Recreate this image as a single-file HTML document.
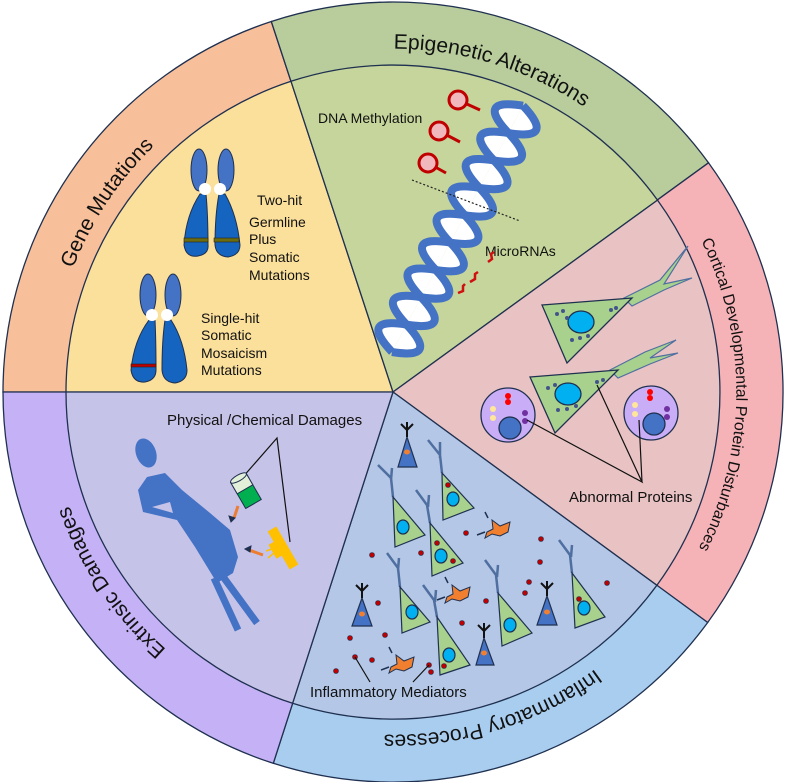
<!DOCTYPE html>
<html><head><meta charset="utf-8"><style>
html,body{margin:0;padding:0;background:#fff;}
svg{display:block;font-family:"Liberation Sans",sans-serif;}
</style></head><body>
<svg width="786" height="782" viewBox="0 0 786 782" xmlns="http://www.w3.org/2000/svg">
<defs>
<path id="pGene" d="M117.2,596.1 A343,343 0 0 1 473,58.6"/>
<path id="pEpi" d="M118.9,185.5 A343,343 0 0 1 735.5,374"/>
<path id="pCort" d="M513.1,70.6 A343,343 0 0 1 507.6,715.4"/>
<path id="pInf" d="M735.6,408.2 A343,343 0 0 1 120.3,599.8"/>
<path id="pExt" d="M476,724.7 A343,343 0 0 1 115.5,190.3"/>
</defs>
<g stroke="#1f3050" stroke-width="1.3">
<path d="M393,392 L3,392 A390,390 0 0 1 271.3,21.5 Z" fill="#f8c09a"/>
<path d="M393,392 L271.3,21.5 A390,390 0 0 1 708.5,162.8 Z" fill="#b8cc9c"/>
<path d="M393,392 L708.5,162.8 A390,390 0 0 1 707.7,622.5 Z" fill="#f6b3b7"/>
<path d="M393,392 L707.7,622.5 A390,390 0 0 1 273.3,763.3 Z" fill="#a9cdef"/>
<path d="M393,392 L273.3,763.3 A390,390 0 0 1 3,392 Z" fill="#c5b2f6"/>
<path d="M393,392 L66,392 A327,327 0 0 1 291,81.3 Z" fill="#fbe09c"/>
<path d="M393,392 L291,81.3 A327,327 0 0 1 657.5,200.1 Z" fill="#c6d59b"/>
<path d="M393,392 L657.5,200.1 A327,327 0 0 1 656.9,585.3 Z" fill="#e9c3c3"/>
<path d="M393,392 L656.9,585.3 A327,327 0 0 1 292.6,703.3 Z" fill="#b4c7e7"/>
<path d="M393,392 L292.6,703.3 A327,327 0 0 1 66,392 Z" fill="#c6c3e8"/>
</g>
<g font-size="21" fill="#111">
<text><textPath href="#pGene" startOffset="50%" text-anchor="middle">Gene Mutations</textPath></text>
<text><textPath href="#pEpi" startOffset="50%" text-anchor="middle">Epigenetic Alterations</textPath></text>
<text><textPath href="#pInf" startOffset="50%" text-anchor="middle">Inflammatory Processes</textPath></text>
<text><textPath href="#pExt" startOffset="50%" text-anchor="middle">Extrinsic Damages</textPath></text>
<text font-size="16"><textPath href="#pCort" startOffset="50%" text-anchor="middle">Cortical Developmental Protein Disturbances</textPath></text>
</g>

<g stroke="#1f3050" stroke-width="1">
<ellipse cx="199" cy="170" rx="8" ry="21" fill="#4472c4"/>
<path d="M200,194 Q186,215 184,245 Q186,258 198,256 Q209,254 208,245 Q208,215 206,194 Z" fill="#1565c0"/>
<ellipse cx="226" cy="170" rx="8" ry="21" fill="#4472c4"/>
<path d="M219,194 Q215,215 215,245 Q216,256 228,257 Q240,255 240,245 Q237,215 225,194 Z" fill="#1565c0"/>
<ellipse cx="148" cy="295" rx="8" ry="21" fill="#4472c4"/>
<path d="M149,320 Q134,340 131,370 Q133,383 145,382 Q156,380 156,370 Q156,340 155,320 Z" fill="#1565c0"/>
<ellipse cx="173" cy="295" rx="8" ry="21" fill="#4472c4"/>
<path d="M165,320 Q162,340 162,370 Q163,382 175,383 Q187,381 187,370 Q184,340 171,320 Z" fill="#1565c0"/>
</g>
<g fill="#fff">
<circle cx="205" cy="189" r="6"/><circle cx="220" cy="189" r="6"/>
<circle cx="152" cy="315" r="6"/><circle cx="167" cy="315" r="6"/>
</g>
<rect x="184" y="238" width="24" height="4" fill="#6b6b10" stroke="#222" stroke-width=".6"/>
<rect x="214" y="238" width="25" height="4" fill="#6b6b10" stroke="#222" stroke-width=".6"/>
<rect x="131" y="364" width="25" height="3" fill="#c00000" stroke="#222" stroke-width=".6"/>
<g font-size="14" fill="#111">
<text x="257" y="205">Two-hit</text>
<text x="249" y="227">Germline</text>
<text x="249" y="244">Plus</text>
<text x="249" y="262">Somatic</text>
<text x="249" y="280">Mutations</text>
<text x="201" y="323">Single-hit</text>
<text x="201" y="340">Somatic</text>
<text x="201" y="358">Mosaicism</text>
<text x="201" y="375">Mutations</text>
<text x="318" y="123">DNA Methylation</text>
<text x="485" y="256">MicroRNAs</text>
<text x="167" y="425" font-size="15">Physical /Chemical Damages</text>
<text x="569" y="502" font-size="15">Abnormal Proteins</text>
<text x="310" y="697" font-size="15">Inflammatory Mediators</text>
</g>

<g transform="translate(392,352) rotate(-62)">
<path d="M0,0 Q15.5,-46 31,0 T62,0 T93,0 T124,0 T155,0 T186,0 T217,0 T248,0 T279,0" fill="#fff" stroke="#4472c4" stroke-width="8"/>
<path d="M0,0 Q15.5,46 31,0 T62,0 T93,0 T124,0 T155,0 T186,0 T217,0 T248,0 T279,0" fill="#fff" stroke="#4472c4" stroke-width="8"/>
</g>
<g stroke="#c00000" stroke-width="3" fill="#f0b8bc">
<line x1="458" y1="100" x2="480" y2="110"/><circle cx="458" cy="100" r="9"/>
<line x1="439" y1="131" x2="460" y2="142"/><circle cx="439" cy="131" r="9"/>
<line x1="428" y1="163" x2="446" y2="173"/><circle cx="428" cy="163" r="9"/>
</g>
<line x1="412" y1="180" x2="520" y2="221" stroke="#222" stroke-width="1.2" stroke-dasharray="2,2"/>
<g stroke="#d01010" stroke-width="2.5" fill="none">
<path d="M488,262 l4,-3 l-1,-5 l3,-2"/><path d="M470,282 l5,-3 l0,-5 l3,-2"/><path d="M458,293 l5,-2 l0,-5 l2,-2"/>
</g>

<g stroke="#1f3050" stroke-width="1.3">
<path d="M624,298 L660,280 L688,246 L664,284 L692,278 L664,290 L632,306 Z" fill="#a9d18e" stroke="#4f6fa0" stroke-width="1.2"/>
<path d="M542,305 L632,298 L567,363 Z" fill="#a9d18e"/>
<ellipse cx="581" cy="322" rx="13" ry="11" fill="#00b0f0"/>
<path d="M610,370 L645,352 L676,340 L650,358 L678,353 L650,364 L618,378 Z" fill="#a9d18e" stroke="#4f6fa0" stroke-width="1.2"/>
<path d="M530,377 L618,370 L555,433 Z" fill="#a9d18e"/>
<ellipse cx="568" cy="394" rx="13" ry="11" fill="#00b0f0"/>
<circle cx="508" cy="415" r="27" fill="#c9aef7"/><circle cx="510" cy="428" r="11" fill="#4472c4"/>
<circle cx="651" cy="413" r="27" fill="#c9aef7"/><circle cx="654" cy="424" r="11" fill="#4472c4"/>
</g>
<g fill="#7030a0"><circle cx="525" cy="413" r="3"/><circle cx="525" cy="421" r="3"/><circle cx="667" cy="409" r="3"/><circle cx="667" cy="417" r="3"/></g>
<g fill="#f00"><circle cx="508" cy="396" r="3"/><circle cx="508" cy="402" r="3"/><circle cx="650" cy="392" r="3"/><circle cx="650" cy="398" r="3"/></g>
<g fill="#ffe699"><circle cx="493" cy="409" r="3"/><circle cx="493" cy="418" r="3"/><circle cx="635" cy="405" r="3"/><circle cx="635" cy="414" r="3"/></g>
<g fill="#44548a"><circle cx="557" cy="314" r="2"/><circle cx="563" cy="311" r="2"/><circle cx="567" cy="318" r="2"/><circle cx="611" cy="310" r="2"/><circle cx="616" cy="308" r="2"/><circle cx="572" cy="340" r="2"/><circle cx="580" cy="338" r="2"/><circle cx="588" cy="336" r="2"/><circle cx="548" cy="388" r="2"/><circle cx="555" cy="385" r="2"/><circle cx="597" cy="382" r="2"/><circle cx="603" cy="380" r="2"/><circle cx="558" cy="410" r="2"/><circle cx="567" cy="409" r="2"/><circle cx="576" cy="406" r="2"/></g>
<g stroke="#111" stroke-width="1.2" fill="none">
<path d="M527,420 L642,482 L597,385 M642,482 L639,420"/>
</g>

<g fill="none" stroke="#4f6fa0" stroke-width="2.5">
<path d="M442,473 L440,455 L428,440 M440,458 L440,442"/>
<path d="M393,497 L391,478 L378,465 M391,480 L392,468"/>
<path d="M430,523 L427,505 L416,490 M428,507 L429,495"/>
<path d="M400,587 L398,568 L387,553 M398,570 L399,558"/>
<path d="M437,617 L434,600 L423,585 M435,602 L436,590"/>
<path d="M498,593 L496,575 L485,560 M497,577 L498,565"/>
<path d="M572,573 L570,555 L559,540 M571,557 L572,545"/>
</g>
<g stroke="#1f3050" stroke-width="1.2">
<g fill="#a9d18e">
<path d="M442,473 L443,520 L474,508 Z"/><path d="M393,497 L395,547 L425,535 Z"/>
<path d="M430,523 L432,576 L463,563 Z"/><path d="M400,587 L402,633 L430,622 Z"/>
<path d="M437,617 L440,675 L470,665 Z"/><path d="M498,593 L502,646 L532,633 Z"/>
<path d="M572,573 L575,628 L605,617 Z"/>
</g>
<g fill="#00b0f0">
<ellipse cx="453" cy="499" rx="6" ry="7"/><ellipse cx="403" cy="527" rx="6" ry="7"/>
<ellipse cx="441" cy="556" rx="6" ry="7"/><ellipse cx="412" cy="612" rx="6" ry="7"/>
<ellipse cx="449" cy="655" rx="6" ry="7"/><ellipse cx="510" cy="625" rx="6" ry="7"/>
<ellipse cx="584" cy="608" rx="6" ry="7"/>
</g>
<g fill="#4472c4">
<path d="M407,437 L398,467 L417,467 Z"/><path d="M362,598 L352,626 L372,626 Z"/>
<path d="M484,638 L476,665 L494,665 Z"/><path d="M547,596 L537,625 L557,625 Z"/>
</g>
</g>
<g stroke="#111" stroke-width="2" fill="none">
<path d="M407,437 V422 M407,430 l-6,-6 M407,430 l6,-6"/>
<path d="M362,598 V583 M362,591 l-6,-6 M362,591 l6,-6"/>
<path d="M484,638 V623 M484,631 l-6,-6 M484,631 l6,-6"/>
<path d="M547,596 V581 M547,589 l-6,-6 M547,589 l6,-6"/>
</g>
<g fill="#f08030"><ellipse cx="407" cy="452" rx="3" ry="2.5"/><ellipse cx="362" cy="614" rx="3" ry="2.5"/><ellipse cx="484" cy="653" rx="3" ry="2.5"/><ellipse cx="547" cy="612" rx="3" ry="2.5"/></g>
<g fill="#f08030" stroke="#1f3050" stroke-width="1">
<path d="M492,520 l8,6 l10,-4 l-2,10 l-8,4 l-8,-2 l-7,4 l2,-6 l6,-3 z"/>
<path d="M452,585 l8,6 l10,-4 l-2,10 l-8,4 l-8,-2 l-7,4 l2,-6 l6,-3 z"/>
<path d="M396,655 l8,6 l10,-4 l-2,10 l-8,4 l-8,-2 l-7,4 l2,-6 l6,-3 z"/>
</g>
<g fill="none" stroke="#1f3050" stroke-width="1.5">
<path d="M485,532 l-8,3 M488,518 l-3,-6"/><path d="M445,597 l-8,3 M448,583 l-3,-6"/><path d="M389,667 l-8,3 M392,653 l-3,-6"/>
</g>
<g fill="#c00000" stroke="#1f3050" stroke-width=".6">
<circle cx="466" cy="533" r="2.5"/><circle cx="421" cy="553" r="2.5"/><circle cx="372" cy="555" r="2.5"/><circle cx="541" cy="539" r="2.5"/><circle cx="540" cy="562" r="2.5"/><circle cx="529" cy="582" r="2.5"/><circle cx="525" cy="593" r="2.5"/><circle cx="486" cy="601" r="2.5"/><circle cx="462" cy="623" r="2.5"/><circle cx="378" cy="603" r="2.5"/><circle cx="350" cy="638" r="2.5"/><circle cx="385" cy="635" r="2.5"/><circle cx="355" cy="657" r="2.5"/><circle cx="372" cy="660" r="2.5"/><circle cx="336" cy="671" r="2.5"/><circle cx="429" cy="665" r="2.5"/><circle cx="431" cy="672" r="2.5"/><circle cx="607" cy="583" r="2.5"/><circle cx="448" cy="485" r="2.5"/><circle cx="437" cy="543" r="2.5"/><circle cx="453" cy="561" r="2.5"/><circle cx="579" cy="599" r="2.5"/><circle cx="444" cy="666" r="2.5"/>
</g>
<g stroke="#111" stroke-width="1.2"><line x1="355" y1="657" x2="370" y2="682"/><line x1="429" y1="665" x2="413" y2="682"/></g>

<ellipse cx="146" cy="453" rx="10" ry="15" transform="rotate(-20 146 453)" fill="#4472c4"/>
<path fill-rule="evenodd" fill="#4472c4" d="M138,490 L147,477 L165,473 L182,490 L210,513 L230,530 L238,557 L233,573 L217,583 L195,547 L177,520 L143,512 Z M152,507 L170,502 L173,513 Z"/>
<g stroke="#4472c4" stroke-width="7" stroke-linecap="butt"><line x1="214" y1="578" x2="238" y2="630"/><line x1="224" y1="578" x2="257" y2="623"/></g>
<g stroke="#111" stroke-width="1.2" fill="none"><path d="M242,478 L277,438 L290,542"/></g>
<g transform="rotate(-30 246 491)">
<rect x="237" y="476" width="18" height="30" fill="#00b050" stroke="#1f3050" stroke-width="1"/>
<rect x="237" y="476" width="18" height="13" fill="#e2f0d9" stroke="#1f3050" stroke-width="1"/>
<ellipse cx="246" cy="476" rx="9" ry="3" fill="#e2f0d9" stroke="#1f3050" stroke-width="1"/>
</g>
<g stroke="#ed7d31" stroke-width="3"><line x1="238" y1="506" x2="234" y2="518"/><line x1="263" y1="555" x2="249" y2="550"/></g>
<g stroke="#1f3050" stroke-width="1" fill="#1f3050"><path d="M231,522 l-2,-6 l6,2 z"/><path d="M245,549 l6,-3 l-1,6 z"/></g>
<g transform="rotate(-30 283 548)" fill="#ffc000"><rect x="278" y="526" width="10" height="44"/><rect x="272" y="538" width="8" height="16"/></g>
<g stroke="#ffc000" stroke-width="1.5"><line x1="266" y1="551" x2="272" y2="549"/><line x1="268" y1="558" x2="274" y2="553"/></g>
</svg>
</body></html>
